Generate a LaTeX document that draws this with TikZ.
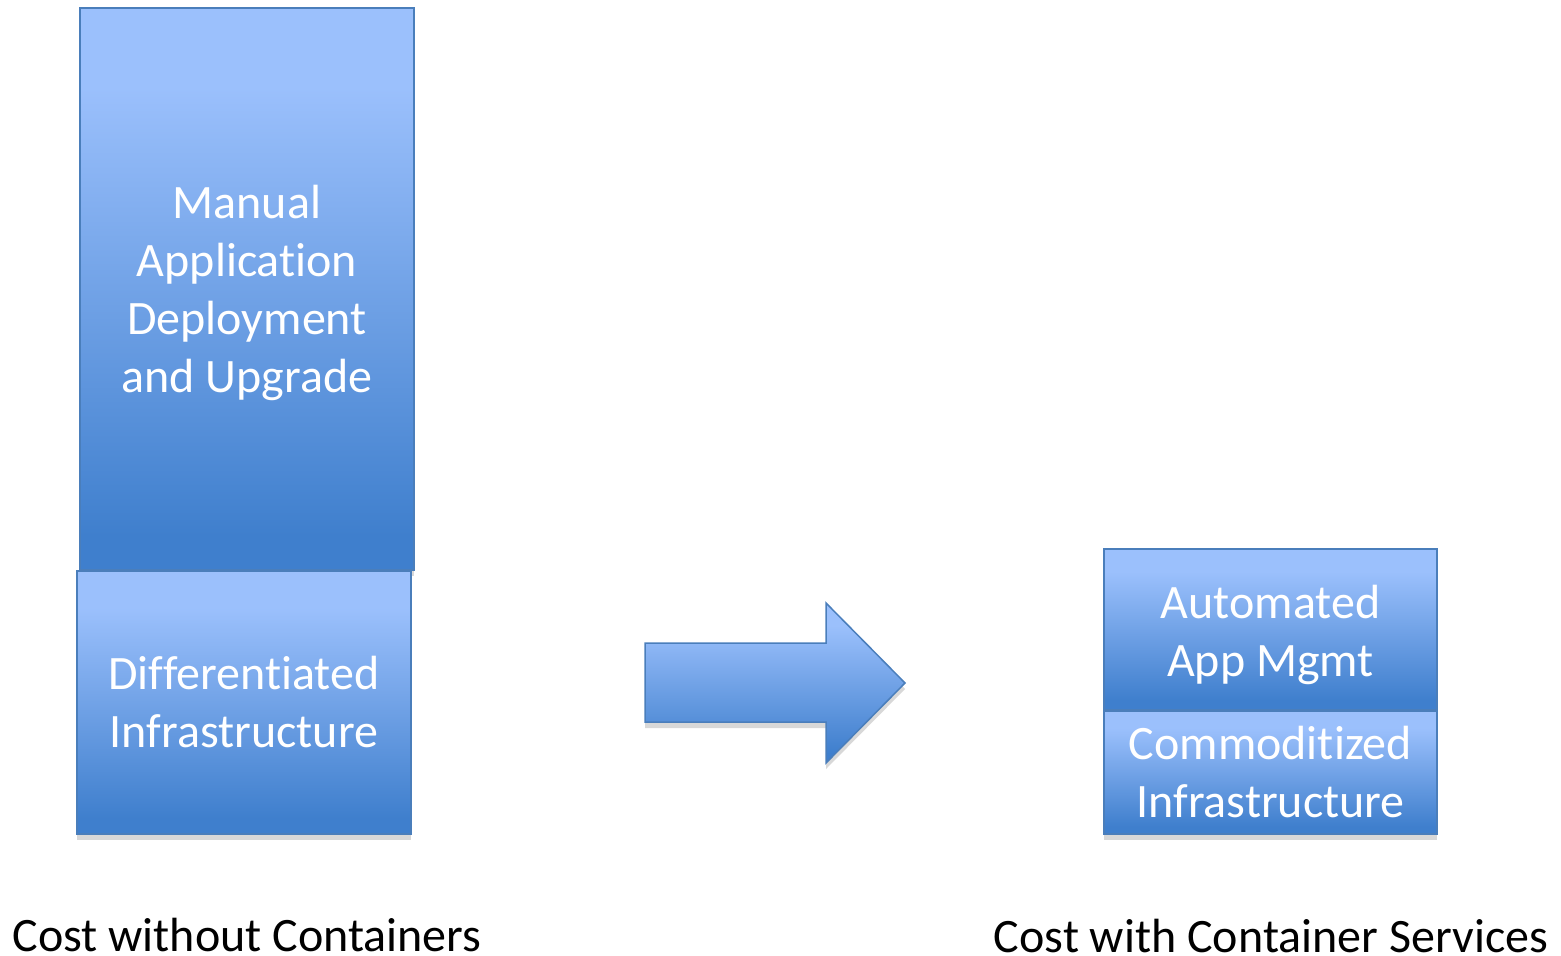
\documentclass[tikz,border=0pt]{standalone}
\usepackage{fontspec}
\setmainfont{Carlito}[Ligatures=NoCommon]
\usetikzlibrary{shadows}
\definecolor{gLight}{HTML}{9BC0FC}
\definecolor{gDark}{HTML}{3F7FCD}
\definecolor{edgeBlue}{HTML}{4A7EBB}
\pgfdeclareverticalshading{boxgrad}{100bp}{color(0bp)=(gDark); color(28bp)=(gDark); color(68bp)=(gLight); color(100bp)=(gLight)}
\tikzset{
  softshadow/.style={drop shadow={shadow xshift=0pt, shadow yshift=-3pt, opacity=0.22, fill=black!70}},
  boxshape/.style={rectangle, draw=edgeBlue, line width=0.75pt, shading=boxgrad, inner sep=0pt, softshadow},
  boxtext/.style={text=white, align=center, inner sep=0pt, font=\fontsize{24}{29}\selectfont},
  caption/.style={text=black, font=\fontsize{24}{28}\selectfont, inner sep=0pt}
}
\begin{document}
\begin{tikzpicture}[x=0.5pt,y=-0.5pt]
\useasboundingbox (0,0) rectangle (1561,956);
\node[boxshape, minimum width=167pt, minimum height=281pt] (manual) at (247,289) {};
\node[boxshape, minimum width=167pt, minimum height=131.5pt] (diff) at (244,702.5) {};
\node[boxshape, minimum width=166.5pt, minimum height=80.5pt] (auto) at (1270.5,629.5) {};
\node[boxshape, minimum width=166.5pt, minimum height=61.5pt] (comm) at (1270.5,772.5) {};
\node[boxtext] (manualtxt) at ([yshift=-2pt]manual.center) {Manual\\Application\\Deployment\\and Upgrade};
\node[boxtext] (difftxt) at ([yshift=0pt]diff.center) {Differentiated\\Infrastructure};
\node[boxtext] (autotxt) at ([yshift=-2.5pt]auto.center) {Automated\\App Mgmt};
\node[boxtext] (commtxt) at ([yshift=0pt]comm.center) {Commoditized\\Infrastructure};
\path[softshadow, shading=boxgrad, draw=edgeBlue, line width=0.75pt]
  (645,643) -- (826,643) -- (826,603) -- (905,683) -- (826,763) -- (826,722) -- (645,722) -- cycle;
\node[caption] (lcap) at (247,935) {Cost without Containers};
\node[caption] (rcap) at (1271,936) {Cost with Container Services};
\end{tikzpicture}
\end{document}
